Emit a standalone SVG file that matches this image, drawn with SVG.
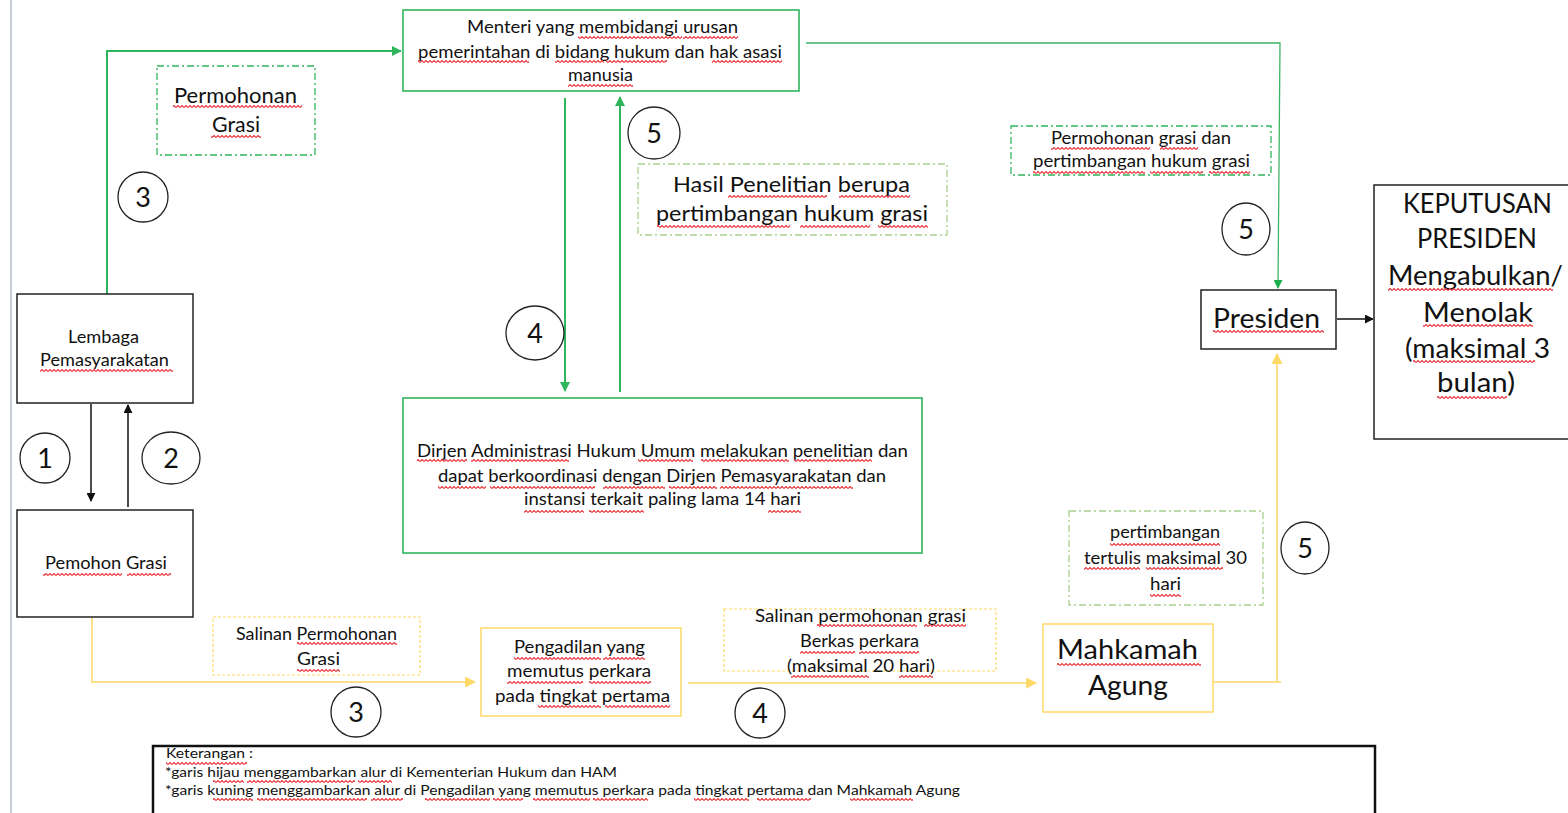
<svg xmlns="http://www.w3.org/2000/svg" width="1568" height="813" viewBox="0 0 1568 813">
  <style>
    text { font-family: Lato, "Open Sans", "Liberation Sans", sans-serif; fill: #111; }
    .box { fill: #fff; stroke: #222; stroke-width: 1.5; }
    .gbox { fill: #fff; stroke: #2fb55b; stroke-width: 1.6; }
    .ybox { fill: #fff; stroke: #ffd966; stroke-width: 1.5; }
    .gnote { fill: none; stroke: #2fb55b; stroke-width: 1.3; stroke-dasharray: 7 3 2 3; }
    .lgnote { fill: none; stroke: #a9d18e; stroke-width: 1.3; stroke-dasharray: 7 3 2 3; }
    .ynote { fill: none; stroke: #ffd966; stroke-width: 1.2; stroke-dasharray: 3 2; }
    .num { fill: #fff; stroke: #222; stroke-width: 1.3; }
    .numt { font-size: 27px; text-anchor: middle; }
    .g { fill: none; stroke: #2fb55b; stroke-width: 2; }
    .g1 { fill: none; stroke: #3cb463; stroke-width: 1.3; }
    .y { fill: none; stroke: #ffe08a; stroke-width: 2; }
    .k { fill: none; stroke: #111; stroke-width: 1.5; }
    .wv rect { fill: url(#wave); height: 3px; }
  </style>
  <defs>
    <pattern id="wave" x="0" y="0" width="4" height="3" patternUnits="userSpaceOnUse">
      <path d="M0,2.5 L2,0.5 L4,2.5" fill="none" stroke="#e83a40" stroke-width="1.2"/>
    </pattern>
    <marker id="ag" viewBox="0 0 10 10" refX="9" refY="5" markerWidth="5" markerHeight="5" orient="auto" markerUnits="strokeWidth">
      <path d="M0,0 L10,5 L0,10 z" fill="#2fb55b"/>
    </marker>
    <marker id="ag1" viewBox="0 0 10 10" refX="9" refY="5" markerWidth="7" markerHeight="7" orient="auto" markerUnits="strokeWidth">
      <path d="M0,0 L10,5 L0,10 z" fill="#1fae4e"/>
    </marker>
    <marker id="ay" viewBox="0 0 10 10" refX="9" refY="5" markerWidth="5.5" markerHeight="5.5" orient="auto" markerUnits="strokeWidth">
      <path d="M0,0 L10,5 L0,10 z" fill="#ffd966"/>
    </marker>
    <marker id="ak" viewBox="0 0 10 10" refX="9" refY="5" markerWidth="6" markerHeight="6" orient="auto" markerUnits="strokeWidth">
      <path d="M0,0 L10,5 L0,10 z" fill="#111"/>
    </marker>
  </defs>

  <rect width="1568" height="813" fill="#fff"/>
  <!-- page margin rule -->
  <line x1="11" y1="0" x2="11" y2="813" stroke="#b4bcc8" stroke-width="1.5"/>

  <!-- connectors -->
  <g id="connectors">
    <path class="g" d="M107,294 V51 H401" marker-end="url(#ag)"/>
    <path class="g" d="M565,98 V391" marker-end="url(#ag)"/>
    <path class="g" d="M620,392 V97" marker-end="url(#ag)"/>
    <path class="g1" d="M806,43 H1280 L1278,288" marker-end="url(#ag1)"/>
    <path class="k" d="M91,404 V501" marker-end="url(#ak)"/>
    <path class="k" d="M128,507 V405" marker-end="url(#ak)"/>
    <path class="k" d="M1337,319 H1373" marker-end="url(#ak)"/>
    <path class="y" d="M92,618 V682 H475" marker-end="url(#ay)"/>
    <path class="y" d="M688,683 H1036" marker-end="url(#ay)"/>
    <path class="y" d="M1213,682 H1281"/>
    <path class="y" d="M1277,682 V354" marker-end="url(#ay)"/>
  </g>

  <!-- notes on the flows -->
  <g id="note-permohonan">
    <rect class="gnote" x="157" y="66" width="158" height="89"/>
    <text x="174" y="103" font-size="21" textLength="123" lengthAdjust="spacingAndGlyphs"><tspan>Permohonan</tspan></text>
    <text x="212" y="132" font-size="21" textLength="48" lengthAdjust="spacingAndGlyphs"><tspan>Grasi</tspan></text>
  </g>
  <g id="note-hasil">
    <rect class="lgnote" x="638" y="164" width="309" height="71"/>
    <text x="673" y="192" font-size="21" textLength="237" lengthAdjust="spacingAndGlyphs"><tspan>Hasil</tspan> <tspan>Penelitian</tspan>  <tspan>berupa</tspan></text>
    <text x="656" y="221" font-size="21" textLength="272" lengthAdjust="spacingAndGlyphs"><tspan>pertimbangan</tspan> <tspan>hukum</tspan> <tspan>grasi</tspan></text>
  </g>
  <g id="note-grasi-dan">
    <rect class="gnote" x="1011" y="126" width="260" height="49"/>
    <text x="1051" y="144" font-size="17" textLength="180" lengthAdjust="spacingAndGlyphs"><tspan>Permohonan</tspan>  <tspan>grasi</tspan> <tspan>dan</tspan></text>
    <text x="1033" y="167" font-size="17" textLength="217" lengthAdjust="spacingAndGlyphs"><tspan>pertimbangan</tspan>  <tspan>hukum</tspan>  <tspan>grasi</tspan></text>
  </g>
  <g id="note-salinan">
    <rect class="ynote" x="213" y="617" width="207" height="58"/>
    <text x="236" y="640" font-size="17" textLength="161" lengthAdjust="spacingAndGlyphs"><tspan>Salinan</tspan> <tspan>Permohonan</tspan></text>
    <text x="297" y="665" font-size="17" textLength="43" lengthAdjust="spacingAndGlyphs"><tspan>Grasi</tspan></text>
  </g>
  <g id="note-berkas">
    <rect class="ynote" x="724" y="609" width="272" height="62"/>
    <text x="755" y="622" font-size="17" textLength="211" lengthAdjust="spacingAndGlyphs"><tspan>Salinan</tspan> <tspan>permohonan</tspan>  <tspan>grasi</tspan></text>
    <text x="800" y="647" font-size="17" textLength="119" lengthAdjust="spacingAndGlyphs"><tspan>Berkas</tspan> <tspan>perkara</tspan></text>
    <text x="787" y="672" font-size="17" textLength="148" lengthAdjust="spacingAndGlyphs"><tspan>(maksimal</tspan>  <tspan>20</tspan> <tspan>hari)</tspan></text>
  </g>
  <g id="note-tertulis">
    <rect class="lgnote" x="1069" y="511" width="194" height="94"/>
    <text x="1110" y="538" font-size="17" textLength="110" lengthAdjust="spacingAndGlyphs"><tspan>pertimbangan</tspan></text>
    <text x="1084" y="564" font-size="17" textLength="163" lengthAdjust="spacingAndGlyphs"><tspan>tertulis</tspan> <tspan>maksimal</tspan>  <tspan>30</tspan></text>
    <text x="1150" y="590" font-size="17" textLength="31" lengthAdjust="spacingAndGlyphs"><tspan>hari</tspan></text>
  </g>

  <!-- nodes -->
  <g id="node-menteri">
    <rect class="gbox" x="403" y="10" width="396" height="81"/>
    <text x="467" y="33" font-size="18" textLength="271" lengthAdjust="spacingAndGlyphs"><tspan>Menteri</tspan> <tspan>yang</tspan> <tspan>membidangi</tspan>  <tspan>urusan</tspan></text>
    <text x="418" y="58" font-size="18" textLength="364" lengthAdjust="spacingAndGlyphs"><tspan>pemerintahan</tspan> <tspan>di</tspan> <tspan>bidang</tspan> <tspan>hukum</tspan>  <tspan>dan</tspan> <tspan>hak</tspan> <tspan>asasi</tspan></text>
    <text x="568" y="81" font-size="18" textLength="65" lengthAdjust="spacingAndGlyphs"><tspan>manusia</tspan></text>
  </g>
  <g id="node-lembaga">
    <rect class="box" x="17" y="294" width="176" height="109"/>
    <text x="68" y="343" font-size="17" textLength="71" lengthAdjust="spacingAndGlyphs"><tspan>Lembaga</tspan></text>
    <text x="40" y="366" font-size="17" textLength="129" lengthAdjust="spacingAndGlyphs"><tspan>Pemasyarakatan</tspan></text>
  </g>
  <g id="node-pemohon">
    <rect class="box" x="17" y="510" width="176" height="107"/>
    <text x="45" y="569" font-size="17" textLength="122" lengthAdjust="spacingAndGlyphs"><tspan>Pemohon</tspan>  <tspan>Grasi</tspan></text>
  </g>
  <g id="node-dirjen">
    <rect class="gbox" x="403" y="398" width="519" height="155"/>
    <text x="417" y="457" font-size="17" textLength="491" lengthAdjust="spacingAndGlyphs"><tspan>Dirjen</tspan> <tspan>Administrasi</tspan>  <tspan>Hukum</tspan>  <tspan>Umum</tspan>  <tspan>melakukan</tspan>  <tspan>penelitian</tspan>  <tspan>dan</tspan></text>
    <text x="438" y="482" font-size="17" textLength="448" lengthAdjust="spacingAndGlyphs"><tspan>dapat</tspan> <tspan>berkoordinasi</tspan>  <tspan>dengan</tspan> <tspan>Dirjen</tspan> <tspan>Pemasyarakatan</tspan> <tspan>dan</tspan></text>
    <text x="524" y="505" font-size="17" textLength="277" lengthAdjust="spacingAndGlyphs"><tspan>instansi</tspan>  <tspan>terkait</tspan> <tspan>paling</tspan> <tspan>lama</tspan> <tspan>14</tspan> <tspan>hari</tspan></text>
  </g>
  <g id="node-pengadilan">
    <rect class="ybox" x="481" y="628" width="200" height="88"/>
    <text x="514" y="653" font-size="17" textLength="131" lengthAdjust="spacingAndGlyphs"><tspan>Pengadilan</tspan> <tspan>yang</tspan></text>
    <text x="507" y="677" font-size="17" textLength="144" lengthAdjust="spacingAndGlyphs"><tspan>memutus</tspan>  <tspan>perkara</tspan></text>
    <text x="495" y="702" font-size="17" textLength="175" lengthAdjust="spacingAndGlyphs"><tspan>pada</tspan> <tspan>tingkat</tspan> <tspan>pertama</tspan></text>
  </g>
  <g id="node-mahkamah">
    <rect class="ybox" x="1043" y="624" width="170" height="88"/>
    <text x="1057" y="659" font-size="27" textLength="141" lengthAdjust="spacingAndGlyphs"><tspan>Mahkamah</tspan></text>
    <text x="1088" y="695" font-size="27" textLength="80" lengthAdjust="spacingAndGlyphs"><tspan>Agung</tspan></text>
  </g>
  <g id="node-presiden">
    <rect class="box" x="1201" y="290" width="135" height="59"/>
    <text x="1213" y="328" font-size="27" textLength="107" lengthAdjust="spacingAndGlyphs"><tspan>Presiden</tspan></text>
  </g>
  <g id="node-keputusan">
    <rect class="box" x="1374" y="185" width="200" height="254"/>
    <text x="1403" y="213" font-size="27" textLength="149" lengthAdjust="spacingAndGlyphs"><tspan>KEPUTUSAN</tspan></text>
    <text x="1417" y="248" font-size="27" textLength="120" lengthAdjust="spacingAndGlyphs"><tspan>PRESIDEN</tspan></text>
    <text x="1388" y="285" font-size="27" textLength="175" lengthAdjust="spacingAndGlyphs"><tspan>Mengabulkan/</tspan></text>
    <text x="1423" y="322" font-size="27" textLength="110" lengthAdjust="spacingAndGlyphs"><tspan>Menolak</tspan></text>
    <text x="1405" y="358" font-size="27" textLength="145" lengthAdjust="spacingAndGlyphs"><tspan>(maksimal</tspan> <tspan>3</tspan></text>
    <text x="1437" y="392" font-size="27" textLength="78" lengthAdjust="spacingAndGlyphs"><tspan>bulan)</tspan></text>
  </g>

  <!-- step numbers -->
  <g id="step-1"><circle class="num" cx="45" cy="458" r="25"/><text class="numt" x="45" y="468">1</text></g>
  <g id="step-2"><ellipse class="num" cx="171" cy="458" rx="29" ry="26"/><text class="numt" x="171" y="468">2</text></g>
  <g id="step-3a"><circle class="num" cx="143" cy="197" r="25"/><text class="numt" x="143" y="207">3</text></g>
  <g id="step-3b"><circle class="num" cx="356" cy="712" r="25"/><text class="numt" x="356" y="722">3</text></g>
  <g id="step-4a"><ellipse class="num" cx="535" cy="333" rx="29" ry="27"/><text class="numt" x="535" y="343">4</text></g>
  <g id="step-4b"><circle class="num" cx="760" cy="713" r="25"/><text class="numt" x="760" y="723">4</text></g>
  <g id="step-5a"><ellipse class="num" cx="654" cy="133" rx="26" ry="26"/><text class="numt" x="654" y="143">5</text></g>
  <g id="step-5b"><ellipse class="num" cx="1246" cy="229" rx="24" ry="26"/><text class="numt" x="1246" y="239">5</text></g>
  <g id="step-5c"><ellipse class="num" cx="1305" cy="548" rx="24" ry="26"/><text class="numt" x="1305" y="558">5</text></g>

  <!-- legend -->
  <g id="legend">
    <rect x="153" y="746" width="1222" height="80" fill="#fff" stroke="#111" stroke-width="2.5"/>
    <text x="166" y="758" font-size="14" textLength="87" lengthAdjust="spacingAndGlyphs"><tspan>Keterangan</tspan> <tspan>:</tspan></text>
    <text x="165" y="777" font-size="14" textLength="452" lengthAdjust="spacingAndGlyphs"><tspan>*garis</tspan> <tspan>hijau</tspan> <tspan>menggambarkan</tspan> <tspan>alur</tspan> <tspan>di</tspan> <tspan>Kementerian</tspan> <tspan>Hukum</tspan> <tspan>dan</tspan> <tspan>HAM</tspan></text>
    <text x="165" y="795" font-size="14" textLength="795" lengthAdjust="spacingAndGlyphs"><tspan>*garis</tspan> <tspan>kuning</tspan> <tspan>menggambarkan</tspan> <tspan>alur</tspan> <tspan>di</tspan> <tspan>Pengadilan</tspan> <tspan>yang</tspan> <tspan>memutus</tspan> <tspan>perkara</tspan> <tspan>pada</tspan> <tspan>tingkat</tspan> <tspan>pertama</tspan> <tspan>dan</tspan> <tspan>Mahkamah</tspan> <tspan>Agung</tspan></text>
  </g>

  <!-- wavy spelling underlines -->
  <g id="wavy-underlines" class="wv">
    <rect x="173" y="105" width="129"/><rect x="211" y="135" width="50"/>
    <rect x="578" y="36" width="104"/><rect x="683" y="36" width="55"/>
    <rect x="418" y="60" width="111"/><rect x="555" y="60" width="49"/><rect x="606" y="60" width="61"/><rect x="712" y="60" width="70"/>
    <rect x="568" y="84" width="65"/>
    <rect x="728" y="195" width="99"/><rect x="839" y="195" width="71"/>
    <rect x="657" y="225" width="133"/><rect x="800" y="225" width="70"/><rect x="878" y="225" width="50"/>
    <rect x="1051" y="147" width="99"/><rect x="1160" y="147" width="38"/>
    <rect x="1033" y="171" width="112"/><rect x="1150" y="171" width="53"/><rect x="1209" y="171" width="41"/>
    <rect x="1213" y="330" width="111"/>
    <rect x="1388" y="288" width="165"/><rect x="1423" y="324" width="110"/><rect x="1413" y="360" width="122"/><rect x="1437" y="396" width="70"/>
    <rect x="40" y="369" width="133"/>
    <rect x="43" y="573" width="79"/><rect x="127" y="573" width="44"/>
    <rect x="417" y="459" width="50"/><rect x="471" y="459" width="98"/><rect x="638" y="459" width="55"/><rect x="701" y="459" width="88"/><rect x="794" y="459" width="78"/>
    <rect x="438" y="486" width="48"/><rect x="490" y="486" width="105"/><rect x="603" y="486" width="62"/><rect x="669" y="486" width="48"/><rect x="720" y="486" width="133"/>
    <rect x="524" y="510" width="60"/><rect x="589" y="510" width="55"/><rect x="768" y="510" width="33"/>
    <rect x="514" y="657" width="87"/><rect x="603" y="657" width="42"/>
    <rect x="507" y="681" width="76"/><rect x="589" y="681" width="62"/>
    <rect x="538" y="705" width="63"/><rect x="605" y="705" width="65"/>
    <rect x="297" y="642" width="100"/><rect x="297" y="669" width="43"/>
    <rect x="817" y="624" width="100"/><rect x="924" y="624" width="42"/>
    <rect x="800" y="651" width="55"/><rect x="859" y="651" width="60"/>
    <rect x="791" y="675" width="78"/><rect x="899" y="675" width="34"/>
    <rect x="1110" y="543" width="110"/>
    <rect x="1084" y="567" width="56"/><rect x="1146" y="567" width="77"/>
    <rect x="1150" y="594" width="31"/>
    <rect x="1057" y="663" width="144"/>
    <rect x="166" y="762" width="81"/>
    <rect x="213" y="780" width="31"/><rect x="247" y="780" width="108"/><rect x="358" y="780" width="34"/>
    <rect x="213" y="798" width="40"/><rect x="257" y="798" width="110"/><rect x="371" y="798" width="32"/><rect x="425" y="798" width="65"/><rect x="493" y="798" width="30"/><rect x="533" y="798" width="57"/><rect x="593" y="798" width="55"/><rect x="694" y="798" width="55"/><rect x="757" y="798" width="54"/><rect x="850" y="798" width="63"/>
  </g>
</svg>
